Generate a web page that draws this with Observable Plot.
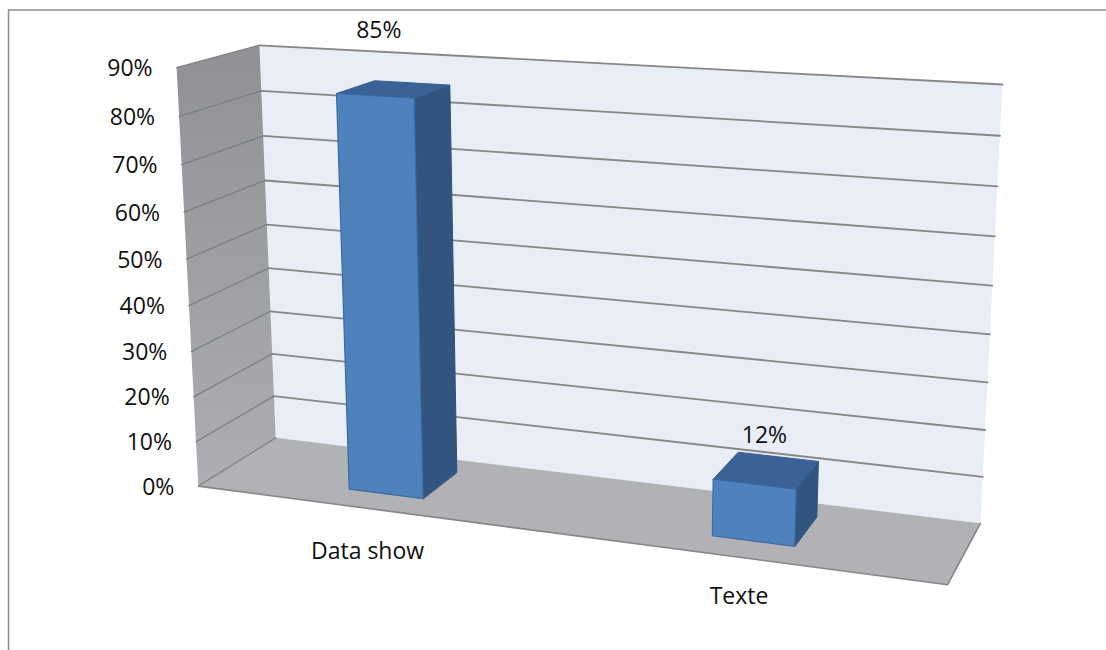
<!DOCTYPE html>
<html>
<head>
<meta charset="utf-8">
<script src="https://cdn.jsdelivr.net/npm/d3@7"></script>
<script src="https://cdn.jsdelivr.net/npm/@observablehq/plot@0.6"></script>
<style>
  html, body { margin: 0; padding: 0; background: #fff; }
</style>
</head>
<body>
<div id="chart"></div>
<script>
// Chart values
const categories = ["Data show", "Texte"];
const shares = [85, 12];
const shareLabels = ["85%", "12%"];
const axisTicks = [0, 10, 20, 30, 40, 50, 60, 70, 80, 90];
const axisMax = 90;

// Box extents in model space: u runs along the categories, d into the depth
const barSpansU = [[0.1935, 0.3005], [0.6945, 0.80]];
const barDepth = [0.27, 0.78];
const valueLabelShift = [[-15, -59], [-2, -35]];
const categoryLabelShift = [[1, 43], [-1, 39]];

// Camera calibration: model (u, v, d) against where the box corners sit on the page
const calibration = [
  [[0, 0, 0], [198, 486]],
  [[0, 1, 0], [176, 67]],
  [[0, 0, 1], [275, 437]],
  [[0, 1, 1], [259, 45]],
  [[1, 0, 1], [980, 523]],
  [[1, 1, 1], [1002, 84]],
  [[1, 0, 0], [947, 584]]
];

// Solves a square linear system by Gaussian elimination with pivoting
function solve(A, b) {
  const n = b.length;
  const M = A.map((row, i) => [...row, b[i]]);
  for (let c = 0; c < n; c++) {
    let pivot = c;
    for (let r = c + 1; r < n; r++) if (Math.abs(M[r][c]) > Math.abs(M[pivot][c])) pivot = r;
    [M[c], M[pivot]] = [M[pivot], M[c]];
    for (let r = 0; r < n; r++) {
      if (r === c) continue;
      const f = M[r][c] / M[c][c];
      for (let k = c; k <= n; k++) M[r][k] -= f * M[c][k];
    }
  }
  return M.map((row, i) => row[n] / row[i]);
}

// Least-squares fit of an 11-parameter perspective projection
function fitCamera(pairs) {
  const rows = [], rhs = [];
  for (const [[u, v, d], [x, y]] of pairs) {
    rows.push([1, u, v, d, 0, 0, 0, 0, -x * u, -x * v, -x * d]); rhs.push(x);
    rows.push([0, 0, 0, 0, 1, u, v, d, -y * u, -y * v, -y * d]); rhs.push(y);
  }
  const n = 11;
  const AtA = d3.range(n).map(i => d3.range(n).map(j =>
    d3.sum(rows, r => r[i] * r[j]) + (i === j ? 1e-6 : 0)));
  const Atb = d3.range(n).map(i => d3.sum(rows, (r, k) => r[i] * rhs[k]));
  const p = solve(AtA, Atb);
  return (u, v, d) => {
    const w = 1 + p[8] * u + p[9] * v + p[10] * d;
    return [(p[0] + p[1] * u + p[2] * v + p[3] * d) / w,
            (p[4] + p[5] * u + p[6] * v + p[7] * d) / w];
  };
}

const camera = fitCamera(calibration);
// Projects a category position, a percentage and a depth onto the page
const project = (u, value, d) => camera(u, value / axisMax, d);
const px = p => p[0];
const py = p => p[1];

const polygon = (pts, fill, stroke = "none", strokeWidth = 1) =>
  Plot.line(pts, {x: px, y: py, curve: "linear-closed", fill, stroke, strokeWidth});
const segment = (pts, stroke, strokeWidth) =>
  Plot.line(pts, {x: px, y: py, stroke, strokeWidth});

// Shading for the side wall, darkening towards the top
const gradients = () => {
  const svg = d3.create("svg:defs");
  const g = svg.append("linearGradient").attr("id", "wallShade")
    .attr("x1", 0).attr("y1", 0).attr("x2", 0).attr("y2", 1);
  g.append("stop").attr("offset", "0%").attr("stop-color", "#8f9194");
  g.append("stop").attr("offset", "100%").attr("stop-color", "#acaeb1");
  return svg.node();
};

// Walls and floor
const backWall = polygon(
  [project(0, 0, 1), project(0, axisMax, 1), project(1, axisMax, 1), project(1, 0, 1)], "#e8edf6");
const sideWall = polygon(
  [project(0, 0, 0), project(0, axisMax, 0), project(0, axisMax, 1), project(0, 0, 1)], "url(#wallShade)");
const floor = polygon(
  [project(0, 0, 0), project(0, 0, 1), project(1, 0, 1), project(1, 0, 0)], "#b0b2b5");
const floorEdges = segment(
  [project(0, 0, 1), project(0, 0, 0), project(1, 0, 0), project(1, 0, 1)], "#868686", 1.6);

// Gridlines run across the back wall and along the side wall
const gridlines = axisTicks.filter(t => t > 0).flatMap(t => [
  segment([project(0, t, 1), project(1, t, 1)], "#868686", 1.8),
  segment([project(0, t, 0), project(0, t, 1)], "#7d7f82", 1.3)
]);

// One box per category: right side, top and front faces
const bars = shares.flatMap((value, i) => {
  const [u0, u1] = barSpansU[i];
  const [d0, d1] = barDepth;
  return [
    polygon([project(u1, 0, d0), project(u1, value, d0), project(u1, value, d1), project(u1, 0, d1)],
      "#325580", "#2f5079", 1),
    polygon([project(u0, value, d0), project(u0, value, d1), project(u1, value, d1), project(u1, value, d0)],
      "#3a6295", "#37608f", 1),
    polygon([project(u0, 0, d0), project(u0, value, d0), project(u1, value, d0), project(u1, 0, d0)],
      "#4f81bd", "#3a6aa3", 1.2)
  ];
});

const font = {fontFamily: "'Open Sans', 'Noto Sans', sans-serif", fontSize: 23, fill: "#111"};

const tickLabels = Plot.text(axisTicks, {
  x: t => project(0, t, 0)[0],
  y: t => project(0, t, 0)[1],
  text: t => `${t}%`,
  textAnchor: "end",
  dx: -24,
  dy: 1,
  ...font
});

const valueLabels = Plot.text(shares, {
  x: (v, i) => project(d3.mean(barSpansU[i]), v, d3.mean(barDepth))[0] + valueLabelShift[i][0],
  y: (v, i) => project(d3.mean(barSpansU[i]), v, d3.mean(barDepth))[1] + valueLabelShift[i][1],
  text: (v, i) => shareLabels[i],
  ...font
});

const categoryLabels = Plot.text(categories, {
  x: (c, i) => project(d3.mean(barSpansU[i]), 0, 0)[0] + categoryLabelShift[i][0],
  y: (c, i) => project(d3.mean(barSpansU[i]), 0, 0)[1] + categoryLabelShift[i][1],
  text: c => c,
  ...font
});

const chart = Plot.plot({
  width: 1106,
  height: 650,
  margin: 0,
  x: {type: "identity", axis: null},
  y: {type: "identity", axis: null},
  style: {background: "#fff"},
  marks: [
    gradients,
    // Outer chart border: top and left edges only
    Plot.ruleY([9.5], {x1: 8, x2: 1106, stroke: "#8c8c8c", strokeWidth: 1.5}),
    Plot.ruleX([8], {y1: 9.5, y2: 650, stroke: "#8c8c8c", strokeWidth: 1.5}),
    backWall,
    sideWall,
    floor,
    floorEdges,
    ...gridlines,
    ...bars,
    tickLabels,
    valueLabels,
    categoryLabels
  ]
});

document.getElementById("chart").append(chart);
</script>
</body>
</html>
